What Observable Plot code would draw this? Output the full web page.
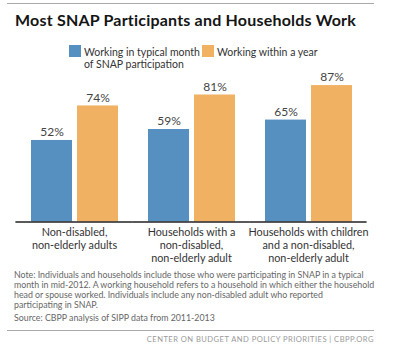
<!DOCTYPE html>
<html>
<head>
<meta charset="utf-8">
<script src="https://cdn.jsdelivr.net/npm/d3@7"></script>
<script src="https://cdn.jsdelivr.net/npm/@observablehq/plot@0.6"></script>
<style>
  html, body { margin: 0; padding: 0; background: #fff; }
  body { width: 400px; height: 353px; position: relative; overflow: hidden; font-family: Lato, "Open Sans", sans-serif; }
  .abs { position: absolute; }
  .hr { position: absolute; left: 7px; width: 367px; height: 0; border-top: 1.5px solid #a9a9a9; }
  #title { left: 15px; top: 10px; font-size: 16px; letter-spacing: 0.2px; font-weight: 700; color: #151515; white-space: nowrap; }
  .sw { position: absolute; width: 12px; height: 12px; }
  .lt { position: absolute; font-size: 10.5px; color: #333; line-height: 12.5px; white-space: nowrap; }
  #note { left: 14px; top: 269.5px; font-size: 8.8px; line-height: 10px; color: #666; white-space: nowrap; }
  #source { left: 14px; top: 311.5px; font-size: 8.8px; color: #666; white-space: nowrap; }
  #footer { right: 26px; top: 334px; font-size: 7.6px; letter-spacing: 0.45px; color: #9a9a9a; white-space: nowrap; }
  #chart { position: absolute; left: 0; top: 70px; }
</style>
</head>
<body>
<script>
const categories = [
  "Non-disabled,\nnon-elderly adults",
  "Households with a\nnon-disabled,\nnon-elderly adult",
  "Households with children\nand a non-disabled,\nnon-elderly adult"
];
const seriesNames = ["Working in typical month\nof SNAP participation", "Working within a year"];
const monthValues = [52, 59, 65];
const yearValues = [74, 81, 87];
const seriesColors = ["#5590c1", "#f0b162"];
const titleText = "Most SNAP Participants and Households Work";
const noteLines = [
  "Note: Individuals and households include those who were participating in SNAP in a typical",
  "month in mid-2012. A working household refers to a household in which either the household",
  "head or spouse worked. Individuals include any non-disabled adult who reported",
  "participating in SNAP."
];
const sourceText = "Source: CBPP analysis of SIPP data from 2011-2013";
const footerText = "CENTER ON BUDGET AND POLICY PRIORITIES | CBPP.ORG";

const data = [];
categories.forEach((c, i) => {
  data.push({cat: c, series: seriesNames[0], value: monthValues[i]});
  data.push({cat: c, series: seriesNames[1], value: yearValues[i]});
});

function add(html, cls, id, style) {
  const d = document.createElement("div");
  if (cls) d.className = cls;
  if (id) d.id = id;
  if (style) d.setAttribute("style", style);
  d.innerHTML = html;
  document.body.appendChild(d);
  return d;
}

add("", "hr", null, "top:2.5px;");
add(titleText, "abs", "title");
// legend
add("", "sw", null, "left:69px;top:45px;background:" + seriesColors[0]);
add(seriesNames[0].replace("\n", "<br>"), "lt", null, "left:84px;top:45.5px;");
add("", "sw", null, "left:202px;top:45px;background:" + seriesColors[1]);
add(seriesNames[1], "lt", null, "left:217px;top:45.5px;");

const chart = Plot.plot({
  width: 400,
  height: 200,
  marginLeft: 15,
  marginRight: 34,
  marginTop: 0,
  marginBottom: 0,
  style: {fontFamily: "Lato, sans-serif", background: "transparent"},
  fx: {domain: categories, paddingInner: 0.25, paddingOuter: 0.12, axis: null, label: null},
  x: {domain: seriesNames, paddingInner: 0.11, paddingOuter: 0, axis: null, label: null},
  y: {domain: [0, 100], range: [151.5, -5.3], axis: null, label: null},
  color: {domain: seriesNames, range: seriesColors},
  marks: [
    Plot.barY(data, {fx: "cat", x: "series", y: "value", fill: "series"}),
    Plot.text(data, {fx: "cat", x: "series", y: "value", text: d => d.value + "%", dy: -8, fontSize: 12, fill: "#444"}),
    Plot.ruleY([0], {stroke: "#222", strokeWidth: 1.5, insetLeft: -14.6, insetRight: -14.6}),
    Plot.text(categories, {fx: d => d, y: () => 0, text: d => d, lineAnchor: "top", dy: 4.5, fontSize: 10.8, lineHeight: 1.23, fill: "#333"})
  ]
});
chart.id = "chart";
document.body.appendChild(chart);

add(noteLines.join("<br>"), "abs", "note");
add(sourceText, "abs", "source");
add("", "hr", null, "top:330px;");
add(footerText, "abs", "footer");
</script>
</body>
</html>
